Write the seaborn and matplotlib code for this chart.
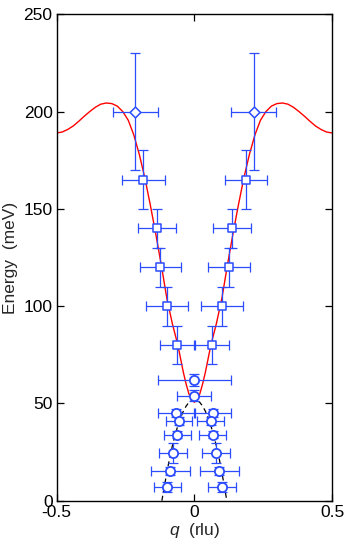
import numpy as np
import pandas as pd
import matplotlib
matplotlib.use("Agg")
import matplotlib.pyplot as plt
import seaborn as sns

# ---------------- data ----------------
# red model curve (q, E)
curve_q = [-0.50, -0.48, -0.46, -0.44, -0.42, -0.40, -0.38, -0.36, -0.34, -0.32, -0.30,
           -0.28, -0.26, -0.24, -0.22, -0.20, -0.18, -0.16, -0.14, -0.12, -0.10, -0.08,
           -0.06, -0.05, -0.04, -0.03, -0.02, -0.01, 0.00,
           0.01, 0.02, 0.03, 0.04, 0.05, 0.06, 0.08, 0.10, 0.12, 0.14, 0.16, 0.18,
           0.20, 0.22, 0.24, 0.26, 0.28, 0.30, 0.32, 0.34, 0.36, 0.38, 0.40, 0.42,
           0.44, 0.46, 0.48, 0.50]
curve_E = [189.0, 189.5, 190.8, 192.6, 195.0, 197.6, 200.0, 202.2, 203.8, 204.4, 204.1,
           202.8, 200.0, 195.5, 188.0, 178.0, 166.0, 152.0, 137.0, 121.0, 104.0, 91.0,
           80.0, 73.0, 66.0, 60.0, 55.0, 51.8, 50.6,
           51.8, 55.0, 60.0, 66.0, 73.0, 80.0, 91.0, 104.0, 121.0, 137.0, 152.0, 166.0,
           178.0, 188.0, 195.5, 200.0, 202.8, 204.1, 204.4, 203.8, 202.2, 200.0, 197.6, 195.0,
           192.6, 190.8, 189.5, 189.0]

# black dashed lower branch (q, E)
dash_q = [-0.118, -0.11, -0.10, -0.09, -0.08, -0.07, -0.06, -0.05, -0.04, -0.03, -0.02, -0.01, 0.0,
          0.01, 0.02, 0.03, 0.04, 0.05, 0.06, 0.07, 0.08, 0.09, 0.10, 0.11, 0.118]
dash_E = [0.0, 6.5, 14.5, 21.8, 28.1, 33.7, 38.5, 42.7, 46.0, 48.6, 50.5, 51.6, 52.0,
          51.6, 50.5, 48.6, 46.0, 42.7, 38.5, 33.7, 28.1, 21.8, 14.5, 6.5, 0.0]

# diamonds
dia_q = [-0.214, 0.215]
dia_E = [200, 200]
dia_qerr = [0.082, 0.082]
dia_Eerr = [30, 30]

# squares
sq_q = [-0.185, 0.187, -0.135, 0.137, -0.123, 0.125, -0.099, 0.101, -0.063, 0.064]
sq_E = [165, 165, 140, 140, 120, 120, 100, 100, 80, 80]
sq_qerr = [0.077, 0.077, 0.070, 0.070, 0.076, 0.076, 0.077, 0.077, 0.063, 0.063]
sq_Eerr = [15, 15, 10, 10, 10, 10, 10, 10, 10, 10]

# circles
ci_q = [0.0, 0.0, -0.065, 0.066, -0.056, 0.059, -0.062, 0.066, -0.077, 0.079,
        -0.087, 0.090, -0.098, 0.101]
ci_E = [62, 54, 45, 45, 41, 41, 34, 34, 24.5, 24.5, 15.3, 15.3, 7, 7]
ci_qerr = [0.133, 0.062, 0.066, 0.066, 0.048, 0.050, 0.049, 0.049, 0.052, 0.051,
           0.070, 0.071, 0.050, 0.050]
ci_Eerr = [3, 3, 2, 2, 2, 2, 2, 2, 5, 5, 2, 2, 2.5, 2.5]

x_ticks = [-0.5, 0, 0.5]
x_ticklabels = ["-0.5", "0", "0.5"]
y_ticks = [0, 50, 100, 150, 200, 250]

# ---------------- style ----------------
sns.set_theme(style="ticks")
plt.rcParams["font.family"] = ["Liberation Sans", "DejaVu Sans"]
plt.rcParams["mathtext.fontset"] = "custom"
plt.rcParams["mathtext.it"] = "Liberation Sans:italic"
plt.rcParams["mathtext.rm"] = "Liberation Sans"

BLUE = "#2b4cff"
fs = 12.5

fig = plt.figure(figsize=(3.49, 5.45), dpi=100)
ax = fig.add_axes([0.1625, 0.0813, 0.7888, 0.8925])

# dashed lower branch
sns.lineplot(x=dash_q, y=dash_E, ax=ax, color="black", lw=0.9,
             linestyle=(0, (4, 3)), sort=False, zorder=1)
# red model
sns.lineplot(x=curve_q, y=curve_E, ax=ax, color="#ff0000", lw=1.0, sort=False, zorder=2)

eb_kw = dict(fmt="none", ecolor=BLUE, elinewidth=0.9, capsize=3.4, capthick=0.9, zorder=3)
ax.errorbar(dia_q, dia_E, xerr=dia_qerr, yerr=dia_Eerr, **eb_kw)
ax.errorbar(sq_q, sq_E, xerr=sq_qerr, yerr=sq_Eerr, **eb_kw)
ax.errorbar(ci_q, ci_E, xerr=ci_qerr, yerr=ci_Eerr, **eb_kw)

sns.scatterplot(x=dia_q, y=dia_E, ax=ax, marker="D", s=30, color="white",
                edgecolor=BLUE, linewidth=1.1, zorder=4)
sns.scatterplot(x=sq_q, y=sq_E, ax=ax, marker="s", s=28, color="white",
                edgecolor=BLUE, linewidth=1.1, zorder=4)
sns.scatterplot(x=ci_q, y=ci_E, ax=ax, marker="o", s=44, color="white",
                edgecolor=BLUE, linewidth=1.3, zorder=4)

ax.set_xlim(-0.5, 0.5)
ax.set_ylim(0, 250)
ax.set_xticks(x_ticks)
ax.set_xticklabels(x_ticklabels)
ax.set_yticks(y_ticks)
ax.tick_params(direction="in", length=5, width=0.9, top=True, right=True,
               labelsize=fs, colors="black", pad=3)
for s in ax.spines.values():
    s.set_color("black")
    s.set_linewidth(1.0)
ax.set_facecolor("white")
ax.grid(False)

ax.set_xlabel(r"$q$  (rlu)", fontsize=fs, labelpad=1)
ax.set_ylabel("Energy  (meV)", fontsize=fs, labelpad=4)

fig.savefig("out.png", dpi=100, facecolor="white")
